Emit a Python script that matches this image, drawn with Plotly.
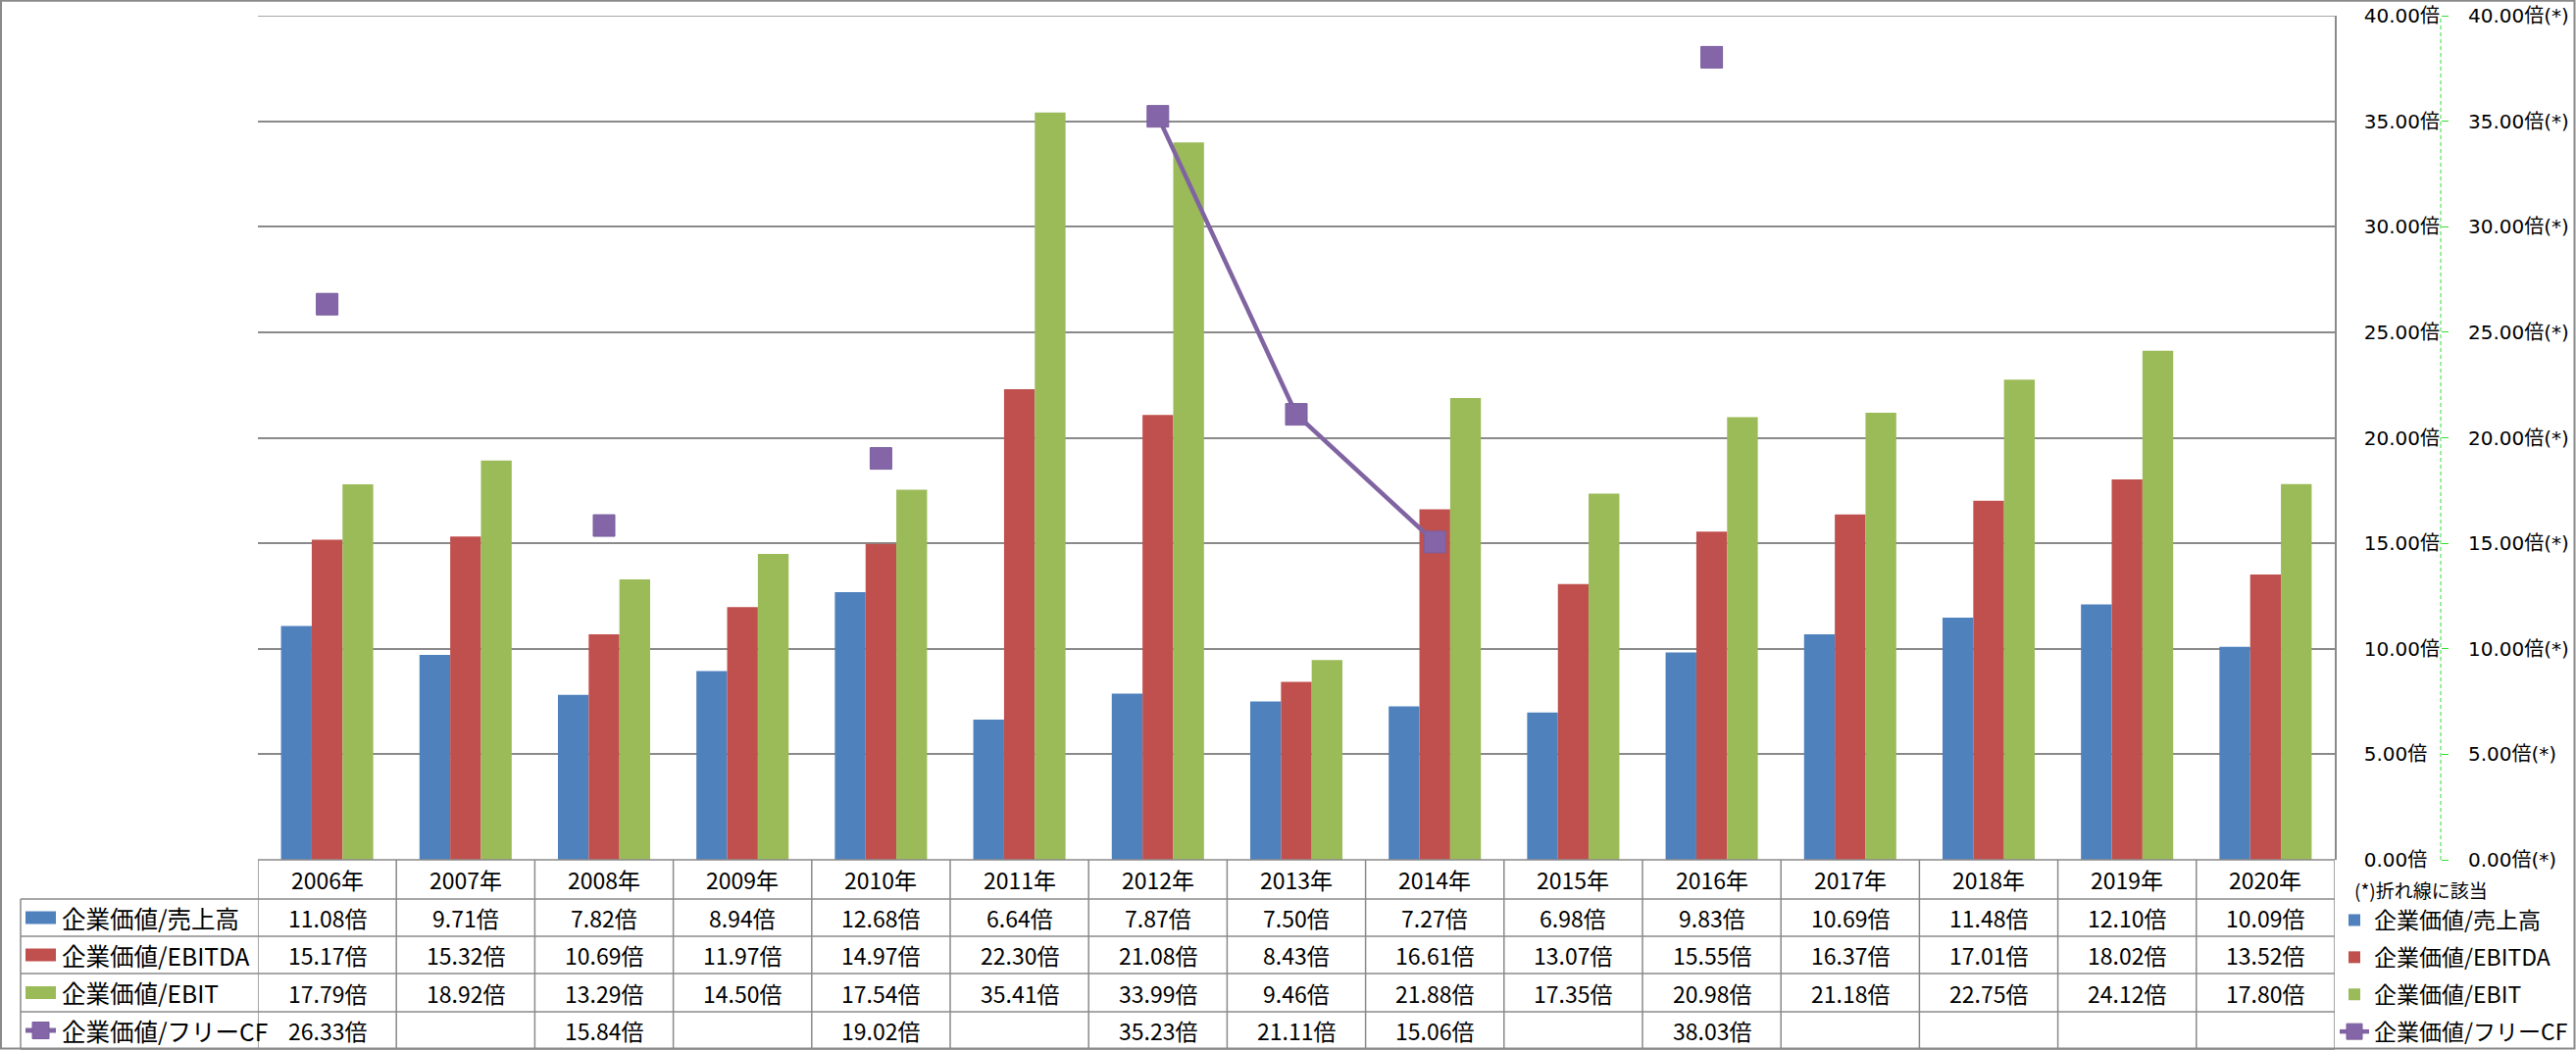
import plotly.graph_objects as go

# ---------------- data ----------------
years = ["2006", "2007", "2008", "2009", "2010", "2011", "2012", "2013",
         "2014", "2015", "2016", "2017", "2018", "2019", "2020"]
year_labels = [f"{y}年" for y in years]

ev_sales = [11.08, 9.71, 7.82, 8.94, 12.68, 6.64, 7.87, 7.50, 7.27, 6.98, 9.83, 10.69, 11.48, 12.10, 10.09]
ev_ebitda = [15.17, 15.32, 10.69, 11.97, 14.97, 22.30, 21.08, 8.43, 16.61, 13.07, 15.55, 16.37, 17.01, 18.02, 13.52]
ev_ebit = [17.79, 18.92, 13.29, 14.50, 17.54, 35.41, 33.99, 9.46, 21.88, 17.35, 20.98, 21.18, 22.75, 24.12, 17.80]
ev_fcf = [26.33, None, 15.84, None, 19.02, None, 35.23, 21.11, 15.06, None, 38.03, None, None, None, None]

series_names = ["企業価値/売上高", "企業価値/EBITDA", "企業価値/EBIT", "企業価値/フリーCF"]
series_colors = ["#4F81BD", "#C0504D", "#9BBB59", "#8064A2"]
y_tick_values = [0, 5, 10, 15, 20, 25, 30, 35, 40]
y_tick_text = [f"{v:.2f}倍" for v in y_tick_values]
y2_tick_text = [f"{v:.2f}倍(*)" for v in y_tick_values]
note_text = "(*)折れ線に該当"

# ---------------- layout helpers ----------------
W, H = 2627, 1071


def px(x):
    return x / W


def py(y):
    return 1 - y / H


PLOT_L, PLOT_R, PLOT_T, PLOT_B = 263, 2381, 16, 877
SEC_AXIS_X = 2489
ROW_EDGES = [877, 917, 955, 993, 1032, 1070]
GRID = "#8A8A8A"
GREEN_AXIS = "#33DD33"
CJK = "Noto Sans CJK JP"
AXIS_FONT = "DejaVu Sans, Noto Sans CJK JP"

fig = go.Figure()

bar_series = [ev_sales, ev_ebitda, ev_ebit]
for name, vals, col in zip(series_names[:3], bar_series, series_colors[:3]):
    fig.add_trace(go.Bar(
        x=years, y=vals, name=name, legendgroup=name,
        marker=dict(color=col, line=dict(width=0)),
        hoverinfo="x+y+name",
    ))

fig.add_trace(go.Scatter(
    x=years, y=ev_fcf, name=series_names[3], legendgroup=series_names[3],
    yaxis="y2", mode="lines+markers", connectgaps=False,
    line=dict(color=series_colors[3], width=4.5),
    marker=dict(symbol="square", size=22, color="#8466A8",
                line=dict(color="#7B5F9E", width=1)),
))

shapes = []
annotations = []

# outer border
shapes.append(dict(type="rect", xref="paper", yref="paper",
                   x0=px(1), x1=px(2625.5), y0=py(1069.5), y1=py(0.8),
                   line=dict(color=GRID, width=2), fillcolor="rgba(0,0,0,0)"))

# top gridline (at the end of the value axis)
shapes.append(dict(type="line", xref="x", yref="y", x0=-0.5, x1=len(years) - 0.5,
                   y0=y_tick_values[-1], y1=y_tick_values[-1],
                   line=dict(color=GRID, width=1.5), layer="below"))

# secondary axis dashed green line
shapes.append(dict(type="line", xref="paper", yref="y2",
                   x0=px(SEC_AXIS_X), x1=px(SEC_AXIS_X), y0=0, y1=40,
                   line=dict(color=GREEN_AXIS, width=1, dash="4px,3px")))

# data table grid (year columns follow the category axis)
n = len(years)
for k, e in enumerate(ROW_EDGES):
    shapes.append(dict(type="line", xref="x", yref="paper",
                       x0=-0.5, x1=n - 0.5, y0=py(e), y1=py(e),
                       line=dict(color=GRID, width=1.5)))
    if k >= 1:
        shapes.append(dict(type="line", xref="paper", yref="paper",
                           x0=px(21), x1=px(PLOT_L), y0=py(e), y1=py(e),
                           line=dict(color=GRID, width=1.5)))
for i in range(n + 1):
    shapes.append(dict(type="line", xref="x", yref="paper",
                       x0=i - 0.5, x1=i - 0.5, y0=py(ROW_EDGES[0]), y1=py(ROW_EDGES[-1]),
                       line=dict(color=GRID, width=1.5)))
shapes.append(dict(type="line", xref="paper", yref="paper",
                   x0=px(21), x1=px(21), y0=py(ROW_EDGES[1]), y1=py(ROW_EDGES[-1]),
                   line=dict(color=GRID, width=1.5)))

row_centers = [(ROW_EDGES[k] + ROW_EDGES[k + 1]) / 2 for k in range(len(ROW_EDGES) - 1)]

# header row (years)
for i, lab in enumerate(year_labels):
    annotations.append(dict(xref="x", yref="paper", x=i, y=py(row_centers[0]),
                            text=lab, showarrow=False, xanchor="center", yanchor="middle",
                            font=dict(family=CJK, size=23, color="#000")))

# value rows
all_series = [ev_sales, ev_ebitda, ev_ebit, ev_fcf]
for r, vals in enumerate(all_series):
    yc = py(row_centers[r + 1])
    for i, v in enumerate(vals):
        if v is None:
            continue
        annotations.append(dict(xref="x", yref="paper", x=i, y=yc,
                                text=f"{v:.2f}倍", showarrow=False,
                                xanchor="center", yanchor="middle",
                                font=dict(family=CJK, size=23, color="#000")))
    # row label + key in the left column
    annotations.append(dict(xref="paper", yref="paper", x=px(61), y=yc,
                            text=series_names[r], showarrow=False,
                            xanchor="left", yanchor="middle",
                            font=dict(family=CJK, size=24.5, color="#000")))
    c = row_centers[r + 1]
    if r < 3:
        shapes.append(dict(type="rect", xref="paper", yref="paper",
                           x0=px(26), x1=px(57), y0=py(c + 6.5), y1=py(c - 6.5),
                           fillcolor=series_colors[r], line=dict(width=0)))
    else:
        shapes.append(dict(type="line", xref="paper", yref="paper",
                           x0=px(26), x1=px(57), y0=py(c), y1=py(c),
                           line=dict(color=series_colors[3], width=5)))
        shapes.append(dict(type="rect", xref="paper", yref="paper",
                           x0=px(33), x1=px(50), y0=py(c + 8.5), y1=py(c - 8.5),
                           fillcolor="#8466A8", line=dict(color="#7B5F9E", width=1)))

# note under the right axes
annotations.append(dict(xref="paper", yref="paper", x=px(2399), y=py(907),
                        text=note_text, showarrow=False, xanchor="left", yanchor="middle",
                        font=dict(family=CJK, size=19, color="#000")))

fig.update_layout(
    width=W, height=H, autosize=False,
    margin=dict(l=0, r=0, t=0, b=0, pad=0, autoexpand=False),
    paper_bgcolor="white", plot_bgcolor="white",
    barmode="group", bargap=0.334, bargroupgap=0,
    showlegend=True,
    legend=dict(x=px(2381), y=py(917), xanchor="left", yanchor="top",
                font=dict(family=CJK, size=23, color="#000"),
                tracegroupgap=5, bgcolor="rgba(0,0,0,0)", borderwidth=0,
                traceorder="grouped"),
    xaxis=dict(domain=[px(PLOT_L), px(PLOT_R)], range=[-0.5, n - 0.5],
               type="category", showticklabels=False, showgrid=False,
               zeroline=False, showline=False, ticks=""),
    yaxis=dict(domain=[py(PLOT_B), py(PLOT_T)], range=[0, 40],
               tickmode="array", tickvals=y_tick_values, ticktext=y_tick_text,
               side="right", showgrid=True, gridcolor=GRID, gridwidth=1.5,
               showline=True, linecolor=GRID, linewidth=1.5, zeroline=False,
               ticks="", ticklabelstandoff=24,
               tickfont=dict(family=AXIS_FONT, size=20, color="#000")),
    yaxis2=dict(overlaying="y", anchor="free", position=px(SEC_AXIS_X), side="right",
                range=[0, 40], tickmode="array", tickvals=y_tick_values, ticktext=y2_tick_text,
                ticks="outside", ticklen=7, tickwidth=1, tickcolor=GREEN_AXIS,
                showgrid=False, zeroline=False, showline=False, ticklabelstandoff=16,
                tickfont=dict(family=AXIS_FONT, size=20, color="#000")),
    shapes=shapes,
    annotations=annotations,
)

fig.write_html("out.html", config={"displayModeBar": False},
               post_script="document.body.style.margin='0';document.body.style.overflow='hidden';")
